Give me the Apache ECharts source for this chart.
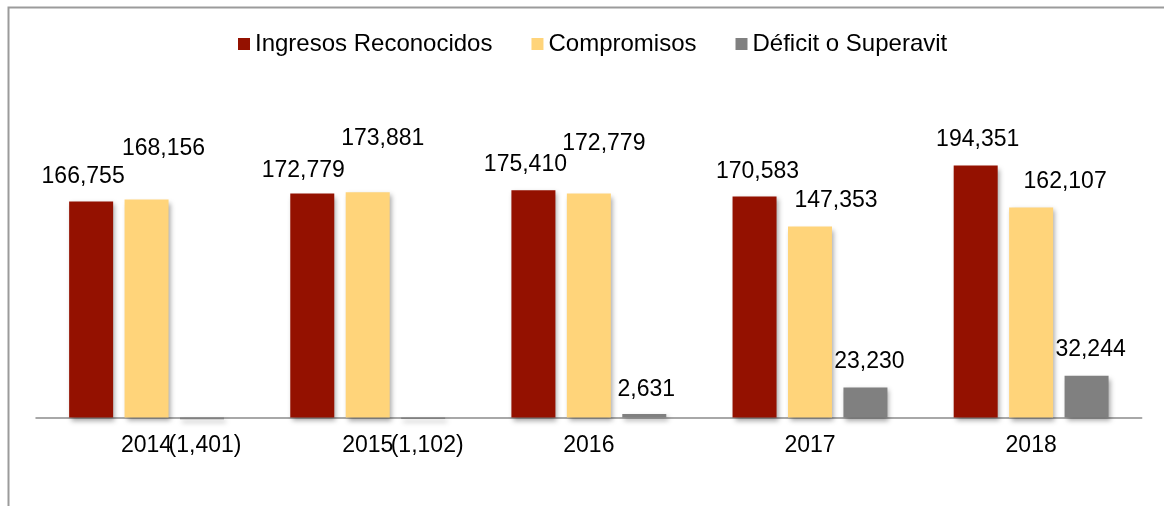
<!DOCTYPE html>
<html>
<head>
<meta charset="utf-8">
<script src="https://cdn.jsdelivr.net/npm/echarts@6/dist/echarts.min.js"></script>
<style>
html,body{margin:0;padding:0;background:#fff;}
#chart{width:1164px;height:506px;}
</style>
</head>
<body>
<div id="chart"></div>
<script>
const categories = ['2014', '2015', '2016', '2017', '2018'];
const ingresos = [166755, 172779, 175410, 170583, 194351];
const compromisos = [168156, 173881, 172779, 147353, 162107];
const deficit = [-1401, -1102, 2631, 23230, 32244];
const seriesNames = ['Ingresos Reconocidos', 'Compromisos', 'Déficit o Superavit'];

// label nudges (pixels) copied from the hand-placed labels of the original
const ingresosShift = [[-8, -13], [-9, -11], [-8, -14], [3, -13], [2, -14]];
const compromisosShift = [[17, -39], [15, -42], [15, -38], [26, -14], [34, -14]];
const deficitShift = [[3, 15], [4, 15], [2, -13], [4, -14], [4, -15]];

const FONT = 'Liberation Sans, Arial, sans-serif';

function fmt(v) {
  const s = Math.abs(v).toLocaleString('en-US');
  return v < 0 ? '(' + s + ')' : s;
}
function items(vals, shifts) {
  return vals.map((v, i) => ({
    value: v,
    label: { position: v < 0 ? 'bottom' : 'top', offset: shifts[i] }
  }));
}
const shadow = {
  shadowColor: 'rgba(0,0,0,0.35)', shadowBlur: 5, shadowOffsetX: 2, shadowOffsetY: 3
};
function mkSeries(name, vals, shifts, color) {
  return {
    name: name, type: 'bar', barWidth: 44, barGap: '26%', clip: false,
    data: items(vals, shifts),
    itemStyle: Object.assign({ color: color }, shadow),
    label: {
      show: true, distance: 0, color: '#000', fontSize: 23, fontFamily: FONT,
      formatter: p => fmt(p.value)
    },
    emphasis: { disabled: true },
    animation: false
  };
}

const chart = echarts.init(document.getElementById('chart'), null, { renderer: 'canvas' });
chart.setOption({
  backgroundColor: '#fff',
  animation: false,
  graphic: [{
    type: 'rect', left: 6, top: 5, z: 100, silent: true,
    shape: { width: 1200, height: 600 },
    style: { fill: 'none', stroke: '#9b9b9b', lineWidth: 2 }
  }],
  legend: {
    left: 238, top: 32, padding: 0, itemWidth: 12, itemHeight: 12, itemGap: 39,
    icon: 'rect',
    textStyle: { fontSize: 24, color: '#000', fontFamily: FONT },
    data: seriesNames
  },
  grid: { left: 36, right: 22.3, top: 93.5, bottom: 88.5, containLabel: false, outerBoundsMode: 'none' },
  xAxis: {
    type: 'category', data: categories,
    axisLine: { onZero: false, lineStyle: { color: '#8c8c8c', width: 1.5 } },
    axisTick: { show: false },
    axisLabel: { margin: 17, fontSize: 23, color: '#000', fontFamily: FONT }
  },
  yAxis: {
    type: 'value', min: 0, max: 250000, interval: 50000, show: false,
    splitLine: { show: false }
  },
  series: [
    mkSeries(seriesNames[0], ingresos, ingresosShift, '#941100'),
    mkSeries(seriesNames[1], compromisos, compromisosShift, '#FFD47A'),
    mkSeries(seriesNames[2], deficit, deficitShift, '#808080')
  ]
});
</script>
</body>
</html>
